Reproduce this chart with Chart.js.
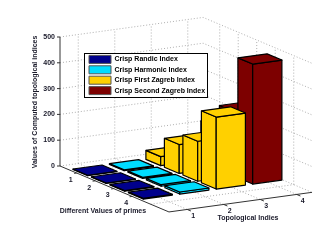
<!DOCTYPE html>
<html><head><meta charset="utf-8">
<style>html,body{margin:0;padding:0;background:#fff}#w{position:relative;width:323px;height:240px}</style>
<script src="https://cdn.jsdelivr.net/npm/chart.js@4"></script></head>
<body><div id="w"><canvas id="c" width="323" height="240"></canvas></div>
<script>
// ---- data ----
const primeLabels = ['1','2','3','4'];
const indexLabels = ['1','2','3','4'];
const zTicks = [0,100,200,300,400,500];
const seriesNames = ['Crisp Randic Index','Crisp Harmonic Index','Crisp First Zagreb Index','Crisp Second Zagreb Index'];
const seriesColors = ['#00008c','#00dcff','#ffd000','#7d0000'];
const randic = [1.5,1.8,2.2,2.5];
const harmonic = [3,4,6,8];
const firstZagreb = [35,112,155,279];
const secondZagreb = [50,160,250,465];
const axisTitleZ = 'Values of Computed topological indices';
const axisTitleP = 'Different Values of primes';
const axisTitleI = 'Topological Indies';

// ---- oblique 3-D projection on top of the two linear scales ----
const series = [randic,harmonic,firstZagreb,secondZagreb];
const PX_PER_UNIT = 0.258, ZERO_PX = 166, AXIS_X = 60;
const I_MIN = 0.1, I_MAX = 5.99, J_MIN = 0.5, J_MAX = 4.42, HALF = 0.4;
function P(i,j,z){
  return {x: AXIS_X + (i-I_MIN)*18.5 + (j-0.5)*36.5,
          y: z - ((i-I_MIN)*7.8 - (j-0.5)*5)/PX_PER_UNIT};
}
const datasets = [];
function poly(pts,opt){ datasets.push(Object.assign({data:pts,pointRadius:0,tension:0,fill:false,borderWidth:1,borderColor:'#000',label:''},opt)); }
const dots = {borderColor:'#9a9a9a',borderWidth:0.8,borderDash:[1,2]};
zTicks.forEach(z=>poly([P(I_MIN,J_MIN,z),P(I_MIN,J_MAX,z),P(I_MAX,J_MAX,z)],dots));
indexLabels.forEach((_,k)=>{const j=k+1;
  poly([P(I_MIN,j,0),P(I_MIN,j,500)],dots);
  poly([P(I_MIN,j,0),P(I_MAX,j,0)],dots);});
[1,2,3,4,5].forEach(i=>{
  poly([P(i,J_MAX,0),P(i,J_MAX,500)],dots);
  poly([P(i,J_MIN,0),P(i,J_MAX,0)],dots);});
// axes
const axisStyle = {borderColor:'#333',borderWidth:1};
poly([P(I_MIN,J_MIN,0),P(I_MIN,J_MIN,500)],axisStyle);
poly([P(I_MIN,J_MIN,0),P(I_MAX,J_MIN,0),P(I_MAX,J_MAX,0)],axisStyle);
zTicks.forEach(z=>{const p=P(I_MIN,J_MIN,z);poly([{x:p.x-3,y:z},p],axisStyle);});
primeLabels.forEach((_,k)=>poly([P(k+1,J_MIN,0),P(k+1,J_MIN-0.07,0)],axisStyle));
indexLabels.forEach((_,k)=>poly([P(I_MAX,k+1,0),P(I_MAX+0.2,k+1,0)],axisStyle));
// bars, back to front
for(let s=series.length-1;s>=0;s--){
  const col=seriesColors[s], j=s+1;
  series[s].forEach((v,r)=>{
    const i=r+1, i0=i-HALF,i1=i+HALF,j0=j-HALF,j1=j+HALF;
    const face=a=>poly(a.concat([a[0]]),{fill:'shape',backgroundColor:col,borderColor:'#000',borderWidth:1.2,borderJoinStyle:'round'});
    face([P(i0,j0,0),P(i1,j0,0),P(i1,j0,v),P(i0,j0,v)]);
    face([P(i1,j0,0),P(i1,j1,0),P(i1,j1,v),P(i1,j0,v)]);
    face([P(i0,j0,v),P(i1,j0,v),P(i1,j1,v),P(i0,j1,v)]);
  });
}
datasets.forEach((d,k)=>{d.order=datasets.length-k;});

const FONT='"Liberation Sans"';
const LEG={left:84,top:53,right:207,bottom:97};
const overlay={
  id:'overlay',
  beforeLayout(chart){
    const lg=chart.legend;
    lg._layers=()=>[{z:10,draw(){
      const c=chart.ctx;c.save();c.fillStyle='#fff';c.strokeStyle='#000';c.lineWidth=1;
      c.fillRect(LEG.left,LEG.top,LEG.right-LEG.left,LEG.bottom-LEG.top);
      c.strokeRect(LEG.left+.5,LEG.top+.5,LEG.right-LEG.left,LEG.bottom-LEG.top);c.restore();
      lg.draw();}}];
  },
  afterLayout(chart){
    const lg=chart.legend;
    lg.left=LEG.left+2.6;lg.top=LEG.top;lg.right=LEG.right;lg.bottom=240;
  },
  afterDatasetsDraw(chart){
    const c=chart.ctx,sx=chart.scales.x,sy=chart.scales.y;
    const px=p=>({x:sx.getPixelForValue(p.x),y:sy.getPixelForValue(p.y)});
    c.save();c.fillStyle='#1a1a2a';c.textAlign='center';c.textBaseline='middle';
    c.font='bold 7px '+FONT;
    primeLabels.forEach((t,k)=>{const p=px(P(k+1,J_MIN,0));c.fillText(t,p.x-6,p.y+6.8);});
    indexLabels.forEach((t,k)=>{const p=px(P(I_MAX,k+1,0));c.fillText(t,p.x+6,p.y+6.5);});
    const a=px(P(I_MAX,J_MIN,0));
    c.fillText(axisTitleP,a.x-66,a.y-1);
    c.fillText(axisTitleI,a.x+79,a.y+6);
    c.translate(35,102);c.rotate(-Math.PI/2);c.fillText(axisTitleZ,0,0);
    c.restore();
  }
};
new Chart(document.getElementById('c'),{
  type:'line',
  data:{datasets},
  plugins:[overlay],
  options:{
    responsive:false,animation:false,events:[],
    layout:{padding:0},
    scales:{
      x:{type:'linear',display:false,min:0,max:323},
      y:{type:'linear',position:{x:AXIS_X-5},
         min:-(240-ZERO_PX)/PX_PER_UNIT,max:ZERO_PX/PX_PER_UNIT,
         grid:{display:false,drawTicks:false},border:{display:false},
         afterBuildTicks(s){s.ticks=zTicks.map(v=>({value:v}));},
         afterUpdate(s){s.paddingTop=0;s.paddingBottom=0;s.paddingLeft=0;s.paddingRight=0;},
         ticks:{padding:0,color:'#1a1a2a',font:{family:FONT,size:7,weight:'bold'},autoSkip:false}}
    },
    plugins:{
      tooltip:{enabled:false},
      legend:{display:true,position:'chartArea',align:'start',
        labels:{boxWidth:22,boxHeight:8,padding:2.4,color:'#000',font:{family:FONT,size:7,weight:'bold'},
          generateLabels:()=>seriesNames.map((t,k)=>({text:t,fillStyle:seriesColors[k],strokeStyle:'#555',lineWidth:1,hidden:false,datasetIndex:k}))}}
    }
  }
});
</script></body></html>
